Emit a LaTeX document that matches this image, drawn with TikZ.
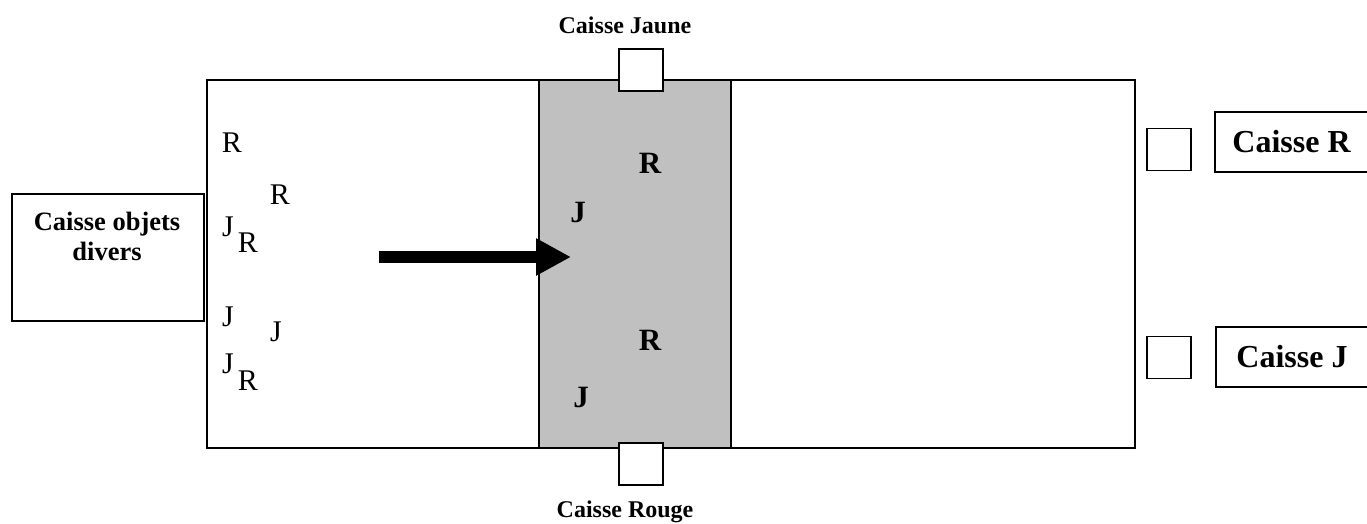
\documentclass[tikz,border=0pt]{standalone}
\usepackage{fontspec}
\setmainfont{Liberation Serif}
\usetikzlibrary{arrows.meta}
\definecolor{bande}{HTML}{C0C0C0}
\begin{document}
\begin{tikzpicture}[x=1pt, y=-1pt, line width=1.6pt,
    carre/.style={draw, fill=white, inner sep=0pt, minimum width=44pt, minimum height=42pt},
    caisse/.style={draw, inner sep=0pt, font=\bfseries\fontsize{32}{36}\selectfont},
    titre/.style={font=\bfseries\fontsize{24}{28}\selectfont},
    obj/.style={inner sep=0pt, font=\fontsize{30}{36}\selectfont},
    objgras/.style={inner sep=0pt, font=\bfseries\fontsize{31}{36}\selectfont}]
  \useasboundingbox (0,0) rectangle (1367,524);
  % tapis et zone de tri
  \draw (207,80) rectangle (1135,448);
  \filldraw [fill=bande] (539,80) rectangle (731,448);
  % caisse de depart
  \node [draw, inner sep=0pt, minimum width=192pt, minimum height=127pt, anchor=north west] (divers) at (11,193) {};
  \node [titre, font=\bfseries\fontsize{26.5}{30}\selectfont, align=center] (txtdivers) at (107,236) {Caisse objets\\divers};
  % caisses jaune et rouge
  \node [carre] (cj) at (641,70) {};
  \node [carre] (cr) at (641,464) {};
  \node [titre] at (625,25) {Caisse Jaune};
  \node [titre] at (625,512) {Caisse Rouge};
  % caisses de sortie
  \node [carre] (sr) at (1169,149.5) {};
  \node [carre] (sj) at (1169,357.5) {};
  \node [caisse, minimum width=153pt, minimum height=60pt] (caisseR) at (1291.5,142) {Caisse R};
  \node [caisse, minimum width=152pt, minimum height=60pt] (caisseJ) at (1292,357) {Caisse J};
  % objets sur le tapis
  \node [obj] (o1) at (232,143) {R};
  \node [obj] (o2) at (280,195) {R};
  \node [obj] (o3) at (228,227) {J};
  \node [obj] (o4) at (248,243) {R};
  \node [obj] (o5) at (228,317) {J};
  \node [obj] (o6) at (276,332) {J};
  \node [obj] (o7) at (228,364) {J};
  \node [obj] (o8) at (248,381) {R};
  % objets dans la zone de tri
  \node [objgras] (t1) at (650,163) {R};
  \node [objgras] (t2) at (578,213) {J};
  \node [objgras] (t3) at (650,340) {R};
  \node [objgras] (t4) at (581,397) {J};
  % sens du tapis
  \coordinate (a0) at (379,257);
  \coordinate (a1) at (571,257);
  \draw [line width=12pt, -{Triangle[length=35pt, width=35pt]}] (a0) -- (a1);
\end{tikzpicture}
\end{document}
